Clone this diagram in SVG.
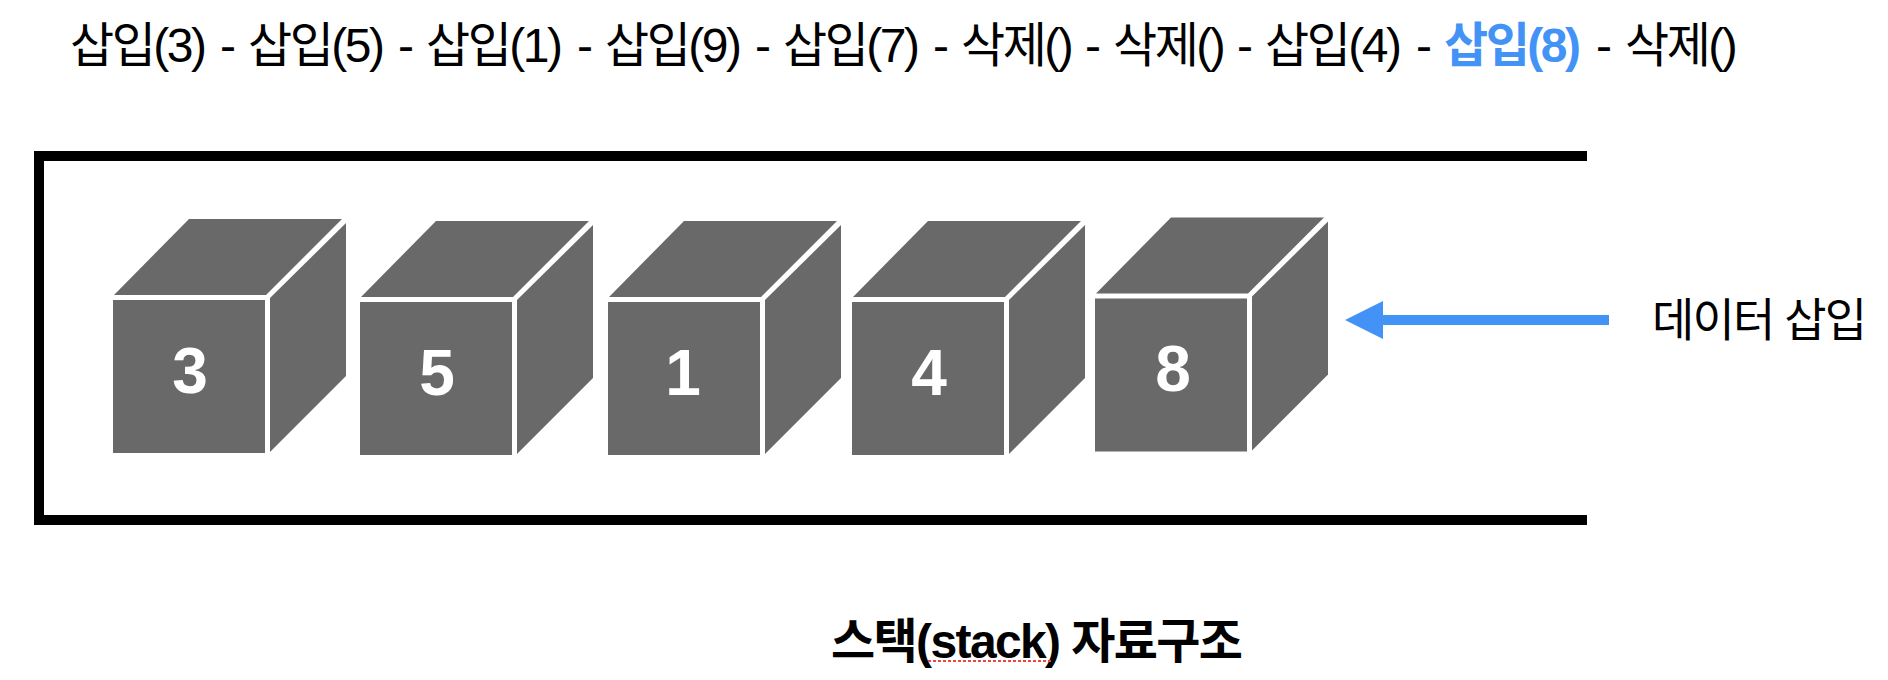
<svg xmlns="http://www.w3.org/2000/svg" xmlns:xlink="http://www.w3.org/1999/xlink" width="1888" height="680" viewBox="0 0 1888 680">
<style>
text{font-family:"Liberation Sans","Noto Sans CJK KR",sans-serif;fill:#000}
.seq{font-size:48px;letter-spacing:-2.5px}
.num{font-size:64px;font-weight:700;fill:#fff;text-anchor:middle}
.cube{fill:#696969}
.bold{font-weight:700;font-size:48px}
</style>
<defs>
<g id="cube"><rect class="cube" x="113" y="300" width="152" height="153"/><polygon class="cube" points="114,295 189,219 342,219 266,295"/><polygon class="cube" points="270,298 346,223 346,376 270,452"/></g>
</defs>
<rect width="1888" height="680" fill="#fff"/>
<text id="sequence" class="seq" y="62"><tspan x="70">삽입(3) </tspan><tspan x="220">- </tspan><tspan x="248">삽입(5) </tspan><tspan x="398">- </tspan><tspan x="426">삽입(1) </tspan><tspan x="577">- </tspan><tspan x="605">삽입(9) </tspan><tspan x="755">- </tspan><tspan x="783">삽입(7) </tspan><tspan x="933">- </tspan><tspan x="961">삭제() </tspan><tspan x="1085">- </tspan><tspan x="1113">삭제() </tspan><tspan x="1237">- </tspan><tspan x="1265">삽입(4) </tspan><tspan x="1416">- </tspan><tspan x="1444" font-weight="700" style="fill:#4393f7">삽입(8) </tspan><tspan x="1596">- </tspan><tspan x="1625">삭제()</tspan></text>
<path id="stack-frame" d="M1587 156H39V520H1587" fill="none" stroke="#000" stroke-width="10"/>
<g id="node-3"><use href="#cube"/><text class="num" x="190" y="393">3</text></g>
<g id="node-5"><use href="#cube" x="247" y="2"/><text class="num" x="437" y="395">5</text></g>
<g id="node-1"><use href="#cube" x="495" y="2"/><text class="num" x="683" y="395">1</text></g>
<g id="node-4"><use href="#cube" x="739" y="2"/><text class="num" x="929" y="395">4</text></g>
<g id="node-8"><use href="#cube" x="982" y="-1.5"/><text class="num" x="1173" y="391">8</text></g>
<g id="connectors"><rect x="1382" y="315" width="227" height="10" fill="#4393f7"/><polygon points="1345,320 1383,301 1383,339" fill="#4393f7"/></g>
<text id="insert-label" x="1652" y="336" font-size="46" textLength="215">데이터 삽입</text>
<text id="title" class="bold" x="831" y="658" textLength="412">스택(stack) 자료구조</text>
<line x1="928" y1="661" x2="1053" y2="661" stroke="#e8483f" stroke-width="2" stroke-dasharray="3 2"/>
</svg>
